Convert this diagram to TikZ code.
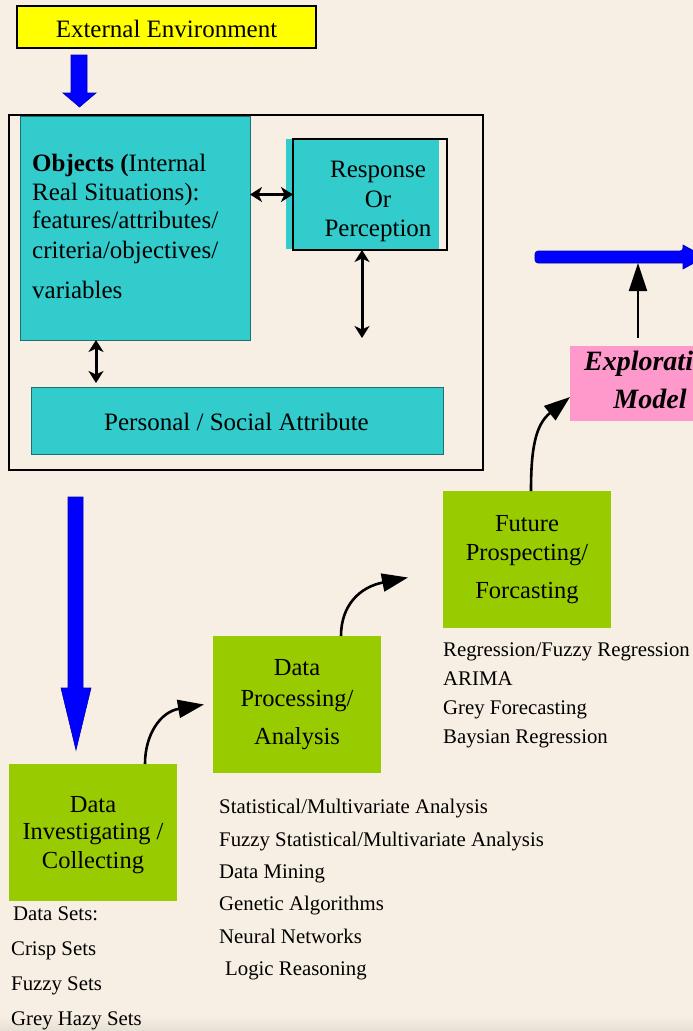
\documentclass[tikz,border=0pt]{standalone}
\usepackage{fontspec}
\setmainfont{Liberation Serif}
\usetikzlibrary{arrows.meta,calc}
\definecolor{bg}{HTML}{F7EFE3}
\definecolor{band}{HTML}{E6DFD3}
\definecolor{tealbox}{HTML}{33CCCC}
\definecolor{limebox}{HTML}{99CC00}
\definecolor{pinkbox}{HTML}{FF99CC}
\definecolor{yelbox}{HTML}{FFFF00}
\definecolor{bluearr}{HTML}{0000FF}
\tikzset{
  box/.style={inner sep=0pt, outer sep=0pt, anchor=north west},
  ln/.style={anchor=base, inner sep=0pt, font=\fontsize{24.5}{29}\selectfont},
  lnb/.style={anchor=base, inner sep=0pt, font=\fontsize{25}{30}\selectfont},
  lnl/.style={anchor=base west, inner sep=0pt, font=\fontsize{25}{30}\selectfont},
  lst/.style={anchor=base west, inner sep=0pt, font=\fontsize{20.8}{25}\selectfont},
  dbl/.style={{Stealth[length=12pt,width=15pt,inset=3.5pt]}-{Stealth[length=12pt,width=15pt,inset=3.5pt]}, line width=3pt},
  curv/.style={-{Triangle[length=26pt,width=18pt]}, line width=2.6pt},
  blockarrow/.style={fill=bluearr, draw=blue!70!black, line width=0.6pt},
}
\begin{document}
\begin{tikzpicture}[x=1pt,y=-1pt]
\useasboundingbox (0,0) rectangle (693,1031);
\clip (0,0) rectangle (693,1031);
\fill[bg] (0,0) rectangle (693,1031);
\shade[top color=bg, bottom color=band] (0,1015) rectangle (693,1031);

% External environment
\node[box, draw=black, line width=1.5pt, fill=yelbox, minimum width=299pt, minimum height=42pt] (ext) at (17,6) {};
\node[lnb] (extt) at (166.5,37) {External Environment};
\fill[blockarrow] (71,55) -- (87,55) -- (87,93) -- (96,93) -- (79.5,107) -- (63,93) -- (71,93) -- cycle;

% outer frame
\node[box, draw=black, line width=1.2pt, minimum width=474pt, minimum height=355pt] (outer) at (9,115) {};

% Objects box
\node[box, fill=tealbox, draw=tealbox!55!black, line width=0.8pt, minimum width=230pt, minimum height=224pt] (obj) at (20,116) {};
\node[lnl] (o1) at (32,171) {\textbf{Objects (}Internal};
\node[lnl] (o2) at (32,200) {Real Situations):};
\node[lnl] (o3) at (32,228) {features/attributes/};
\node[lnl] (o4) at (32,258) {criteria/objectives/};
\node[lnl] (o5) at (32,298) {variables};

% Response box
\node[box, fill=tealbox, minimum width=153pt, minimum height=110pt] (respfill) at (286,139) {};
\node[box, draw=black, line width=1.3pt, minimum width=154pt, minimum height=111pt] (resp) at (293,139) {};
\node[lnb] (r1) at (378,177) {Response};
\node[lnb] (r2) at (378,207) {Or};
\node[lnb] (r3) at (378,236) {Perception};

% Personal box
\node[box, fill=tealbox, draw=tealbox!55!black, line width=0.8pt, minimum width=412pt, minimum height=67pt] (pers) at (31,387) {};
\node[lnb] (perst) at (236.5,430) {Personal / Social Attribute};

% double arrows
\coordinate (rv) at (362,338);
\coordinate (pv) at (96,0);
\draw[dbl] (obj.east |- resp.west) -- (resp.west);
\draw[dbl] ([xshift=-8pt]resp.south) -- (rv);
\draw[dbl, shorten >=4pt] (obj.south -| pv) -- (pers.north -| pv);

% big blue arrow down
\fill[blockarrow] (68,497) -- (83,497) -- (83,688) -- (91,688) -- (76,750) -- (61,688) -- (68,688) -- cycle;

% right blue arrow
\fill[blockarrow, rounded corners=3pt] (535,251) -- (683,251) [sharp corners] -- (683,245) -- (705,257) -- (683,269) -- (683,263) [rounded corners=3pt] -- (535,263) -- cycle;

% green boxes
\node[box, fill=limebox, minimum width=168pt, minimum height=137pt] (inv) at (9,764) {};
\node[ln] (i1) at (93,812) {Data};
\node[ln] (i2) at (93,839) {Investigating /};
\node[ln] (i3) at (93,868) {Collecting};

\node[box, fill=limebox, minimum width=168pt, minimum height=137pt] (proc) at (213,636) {};
\node[ln] (p1) at (297,675) {Data};
\node[ln] (p2) at (297,706) {Processing/};
\node[ln] (p3) at (297,744) {Analysis};

\node[box, fill=limebox, minimum width=168pt, minimum height=137pt] (fut) at (443,491) {};
\node[ln] (f1) at (527,531) {Future};
\node[ln] (f2) at (527,560) {Prospecting/};
\node[ln] (f3) at (527,598) {Forcasting};

% exploratory model
\node[box, fill=pinkbox, minimum width=160pt, minimum height=75pt] (expl) at (570,346) {};
\node[ln, font=\fontsize{28}{33}\selectfont\bfseries\itshape] (e1) at (651,370) {Explorative};
\node[ln, font=\fontsize{28}{33}\selectfont\bfseries\itshape] (e2) at (650,408) {Model};

% curved arrows
\draw[curv] ($(inv.north west)+(136,0)$) .. controls (145,735) and (160,712) .. ([xshift=-9pt]proc.west);
\draw[curv] ($(proc.north west)+(128,0)$) .. controls (341,605) and (360,587) .. ([xshift=-35pt,yshift=-18pt]fut.west);
\draw[curv] ($(fut.north west)+(88,0)$) .. controls (531,450) and (535,425) .. ([yshift=-13.5pt]expl.west);

% black up arrow
\coordinate (bt) at (638,263);
\draw[line width=2pt, -{Triangle[length=28pt,width=18pt]}, shorten <=8pt] (expl.north -| bt) -- (bt);

% lists
\node[lst] (d0) at (13,920) {Data Sets:};
\node[lst] (d1) at (11,955) {Crisp Sets};
\node[lst] (d2) at (11,990) {Fuzzy Sets};
\node[lst] (d3) at (11,1025) {Grey Hazy Sets};

\node[lst] (s1) at (219,813) {Statistical/Multivariate Analysis};
\node[lst] (s2) at (219,846) {Fuzzy Statistical/Multivariate Analysis};
\node[lst] (s3) at (219,878) {Data Mining};
\node[lst] (s4) at (219,910) {Genetic Algorithms};
\node[lst] (s5) at (219,943) {Neural Networks};
\node[lst] (s6) at (225,975) {Logic Reasoning};

\node[lst] (g1) at (443,656) {Regression/Fuzzy Regression};
\node[lst] (g2) at (443,685) {ARIMA};
\node[lst] (g3) at (443,714) {Grey Forecasting};
\node[lst] (g4) at (443,743) {Baysian Regression};
\end{tikzpicture}
\end{document}
